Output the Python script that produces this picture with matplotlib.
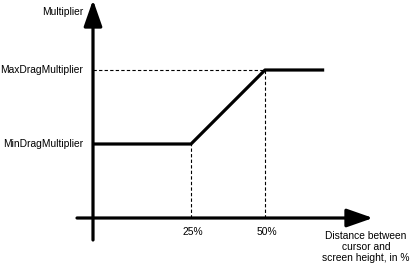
import numpy as np
import matplotlib
matplotlib.use("Agg")
import matplotlib.pyplot as plt

# ---------------------------------------------
# schematic values
# ---------------------------------------------
dist_pct = [0, 25, 50, 70]            # distance, %
multiplier = [1.0, 1.0, 2.0, 2.0]     # min -> ramp -> max
tick_pct = [25, 50]
tick_labels = ["25%", "50%"]
level_names = ["MinDragMultiplier", "MaxDragMultiplier"]
level_values = [1.0, 2.0]

# the sketch is not to scale on x: piecewise mapping
_src = [-200, 0, 25, 50, 400]
_dst = [-784, 0, 98, 172, 172 + 350 * 74 / 25]

def fwd(x):
    return np.interp(x, _src, _dst)

def inv(x):
    return np.interp(x, _dst, _src)

plt.rcParams["font.family"] = ["Liberation Sans", "DejaVu Sans"]

PX = 74.0  # pixels per multiplier unit
fig = plt.figure(figsize=(4.13, 2.65), dpi=100)
ax = fig.add_axes([0, 0, 1, 1])
ax.set_xscale("function", functions=(fwd, inv))
ax.set_xlim(inv(-93), inv(320))
ax.set_ylim(-47 / PX, 218 / PX)
ax.axis("off")

# axes arrows
arrow = dict(arrowstyle="-|>,head_length=1.0,head_width=0.35",
             lw=2.3, color="black", mutation_scale=16,
             shrinkA=0, shrinkB=0)
ax.annotate("", xy=(0, 218 / PX), xytext=(0, -22 / PX), arrowprops=arrow)
ax.annotate("", xy=(inv(280), 0), xytext=(inv(-16), 0), arrowprops=arrow)

# curve
ax.plot(dist_pct, multiplier, color="black", lw=2.3, solid_capstyle="butt")

# guides
dash = dict(color="black", lw=0.8, linestyle=(0, (3, 2)))
ax.plot([0, tick_pct[1]], [level_values[1]] * 2, **dash)
for t, v in zip(tick_pct, level_values):
    ax.plot([t, t], [0, v], **dash)

fs = 7.4
for name, v in zip(level_names, level_values):
    ax.text(inv(-10), v, name, ha="right", va="center", fontsize=fs)
ax.text(inv(-10), 206 / PX, "Multiplier", ha="right", va="center", fontsize=fs)

for t, lab in zip(tick_pct, tick_labels):
    ax.text(inv(fwd(t) + 2), -14 / PX, lab, ha="center", va="center", fontsize=fs)

ax.text(inv(273), -29 / PX, "Distance between\ncursor and\nscreen height, in %",
        ha="center", va="center", fontsize=fs, linespacing=1.1)

fig.savefig("out.png", dpi=100)
